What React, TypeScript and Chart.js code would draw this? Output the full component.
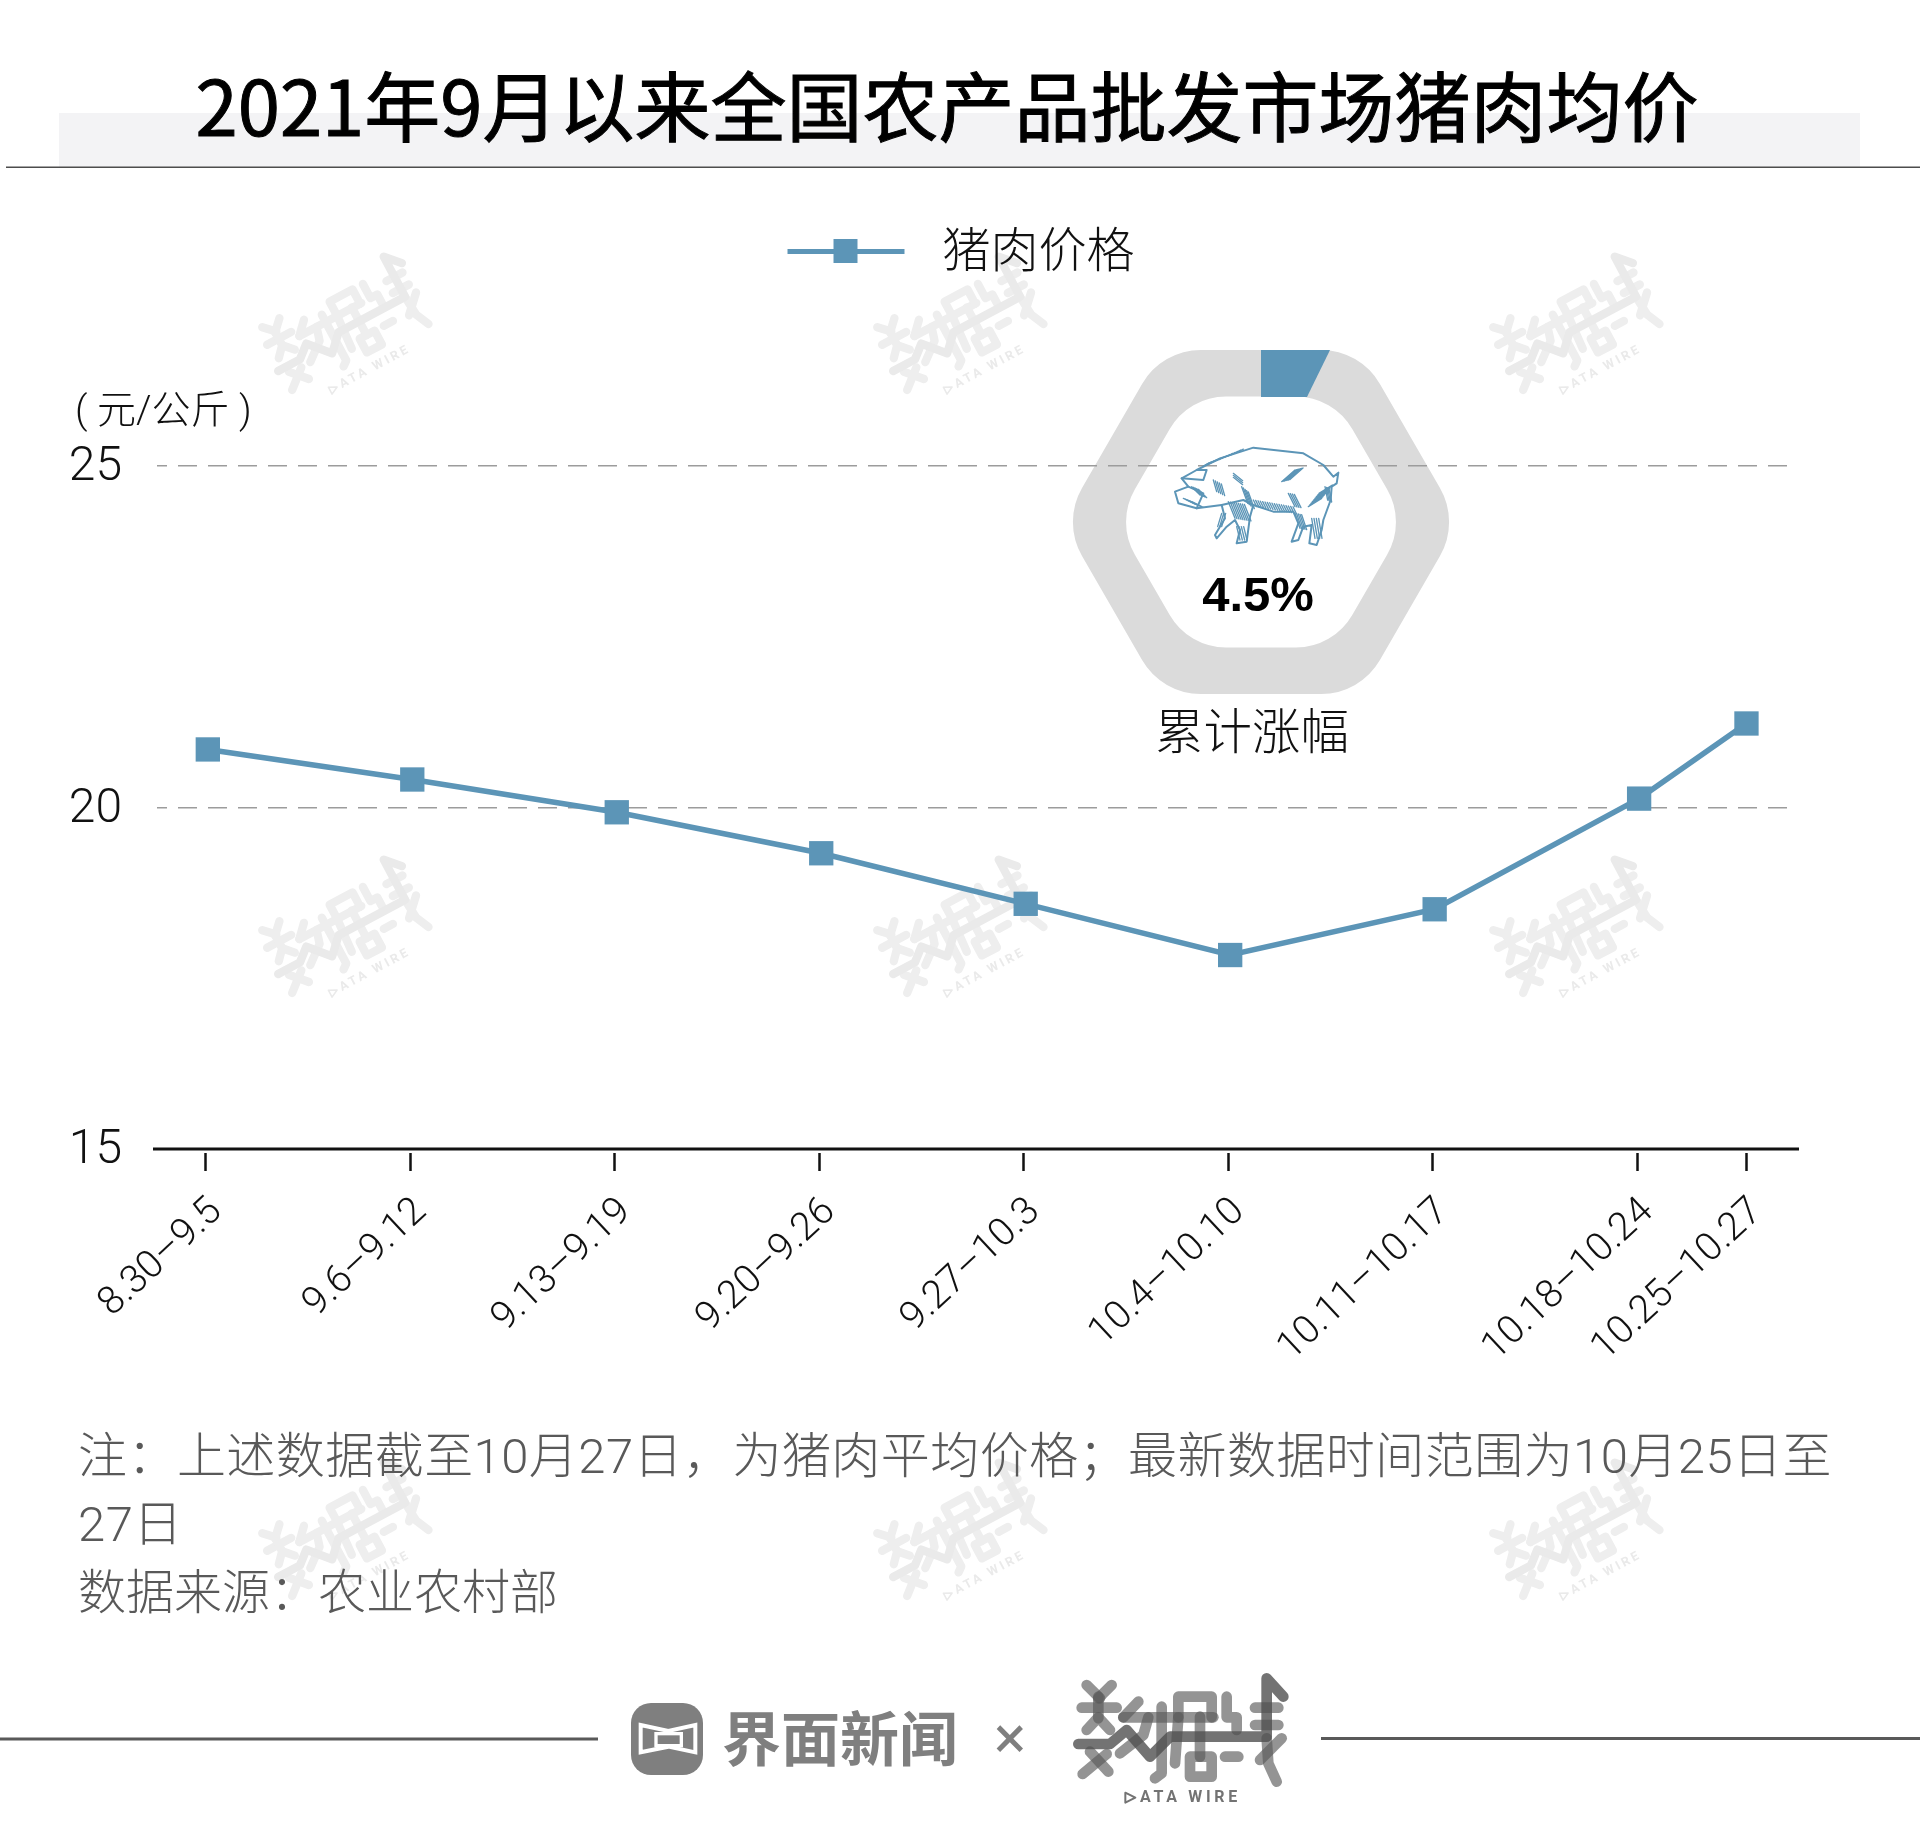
import React, { useEffect, useRef } from "react";
import Chart from "chart.js/auto";

const weekLabels = ["8.30–9.5", "9.6–9.12", "9.13–9.19", "9.20–9.26", "9.27–10.3", "10.4–10.10", "10.11–10.17", "10.18–10.24", "10.25–10.27"];
// last period is only three days, so it sits closer to its neighbour
const weekPositions = [0, 1, 2, 3, 4, 5, 6, 7, 7.525];
const porkPrices = [20.85, 20.41, 19.93, 19.33, 18.59, 17.84, 18.51, 20.13, 21.23];
const yTicks = [15, 20, 25];
const seriesName = "猪肉价格";
const noteLines = ["注：上述数据截至10月27日，为猪肉平均价格；最新数据时间范围为10月25日至", "27日", "数据来源：农业农村部"];

const BLUE = "#5c95b7";
const CJK = '"Noto Sans CJK SC", sans-serif';
const LIGHT = 'Roboto, "Noto Sans CJK SC", sans-serif';

// logo strokes, traced on a 240x150 box
const logoThin = [
  [[80, 75], [120, 115]], [[155, 75], [115, 115]], [[65, 143], [170, 143]], [[115, 110], [115, 175]],
  [[80, 210], [115, 172], [150, 210]], [[68, 342], [140, 282]], [[90, 275], [145, 335]],
  [[235, 125], [190, 172]], [[190, 172], [460, 172]], [[265, 172], [250, 225], [180, 280]],
  [[305, 140], [305, 340], [285, 355]], [[355, 172], [355, 110], [455, 110], [455, 172]], [[355, 172], [345, 310]],
  [[420, 170], [420, 290]], [[390, 290], [455, 290], [455, 350], [390, 350], [390, 290]],
  [[500, 110], [500, 172], [530, 172], [530, 210]], [[495, 290], [535, 290]],
  [[585, 143], [655, 143]], [[585, 195], [655, 195]], [[665, 235], [600, 300]], [[620, 235], [625, 310], [650, 365]],
];
const logoMain = [[[55, 252], [150, 252], [200, 210], [270, 290], [330, 230], [620, 230], [620, 55], [670, 110]]];

function strokeLines(ctx: CanvasRenderingContext2D, lines: number[][][]) {
  for (const pts of lines) {
    ctx.beginPath();
    pts.forEach(([x, y], i) => (i ? ctx.lineTo(x, y) : ctx.moveTo(x, y)));
    ctx.stroke();
  }
}

function drawLogo(ctx: CanvasRenderingContext2D, cx: number, cy: number, scale: number, angle: number, thin: string, main: string) {
  ctx.save();
  ctx.translate(cx, cy);
  ctx.rotate(angle);
  ctx.scale(scale / 3, scale / 3);
  ctx.translate(-360, -210);
  ctx.lineCap = "round";
  ctx.lineJoin = "round";
  ctx.lineWidth = 32;
  ctx.strokeStyle = thin;
  strokeLines(ctx, logoThin);
  ctx.strokeStyle = main;
  strokeLines(ctx, logoMain);
  // DATA WIRE strip under the logo
  ctx.fillStyle = main;
  ctx.beginPath();
  ctx.moveTo(196, 398);
  ctx.lineTo(226, 413);
  ctx.lineTo(196, 428);
  ctx.closePath();
  ctx.lineWidth = 6;
  ctx.strokeStyle = main;
  ctx.stroke();
  ctx.font = "bold 48px Roboto, sans-serif";
  ctx.letterSpacing = "11px";
  ctx.textBaseline = "middle";
  ctx.fillText("ATA WIRE", 240, 414);
  ctx.restore();
}

function hexPath(ctx: CanvasRenderingContext2D, cx: number, cy: number, R: number, r: number) {
  const pts = [0, 1, 2, 3, 4, 5].map((i) => [cx + R * Math.cos((i * Math.PI) / 3), cy + R * Math.sin((i * Math.PI) / 3)]);
  ctx.moveTo((pts[5][0] + pts[0][0]) / 2, (pts[5][1] + pts[0][1]) / 2);
  pts.forEach((p, i) => {
    const n = pts[(i + 1) % 6];
    ctx.arcTo(p[0], p[1], (p[0] + n[0]) / 2, (p[1] + n[1]) / 2, r);
  });
  ctx.closePath();
}

const pigOutline = [[405, 485], [445, 470], [425, 445], [470, 420], [540, 385], [640, 353], [790, 370], [850, 405], [880, 440], [895, 428], [890, 460], [875, 470], [872, 510], [850, 570], [845, 600], [830, 645], [808, 640], [815, 585], [790, 590], [775, 630], [755, 635], [775, 580], [760, 545], [700, 545], [640, 525], [630, 560], [620, 635], [590, 640], [600, 600], [585, 570], [560, 590], [530, 625], [525, 615], [555, 565], [545, 525], [470, 535], [415, 520], [405, 485]];
const pigHatch = [
  // x, y, dx, dy, count, stepX, stepY
  [490, 408, 16, -9, 14, 8, -3.2], [520, 450, 10, 35, 5, 6, 3], [430, 505, 30, 12, 6, 6, 3], [455, 470, 25, 25, 5, 5, 2],
  [565, 515, 20, 50, 9, 6, 1], [605, 470, 18, 50, 5, 5, 4], [640, 510, 10, 20, 18, 7, 1.2],
  [725, 455, 40, -35, 7, 4, -1], [745, 490, 20, 40, 4, 6, 1], [805, 530, 40, -25, 9, 4, -5],
  [855, 470, 8, 40, 4, 4, 2], [765, 550, 15, 45, 5, 5, 1], [815, 565, 10, 60, 4, 7, 0],
  [590, 590, 10, 40, 4, 7, 0], [545, 550, -12, 40, 3, 6, 0], [580, 430, 28, 22, 3, 0, 6],
];

function drawPig(ctx: CanvasRenderingContext2D) {
  ctx.save();
  ctx.translate(1040, 330);
  ctx.scale(1 / 3, 1 / 3);
  ctx.strokeStyle = BLUE;
  ctx.lineJoin = "round";
  ctx.lineCap = "round";
  ctx.lineWidth = 6;
  ctx.beginPath();
  pigOutline.forEach(([x, y], i) => (i ? ctx.lineTo(x, y) : ctx.moveTo(x, y)));
  ctx.stroke();
  strokeLines(ctx, [[[425, 445], [490, 450], [500, 420], [470, 420]], [[445, 470], [490, 490], [470, 535]], [[545, 525], [610, 510], [640, 525]]]);
  ctx.lineWidth = 4;
  for (const [x, y, dx, dy, n, sx, sy] of pigHatch) {
    for (let i = 0; i < n; i++) {
      ctx.beginPath();
      ctx.moveTo(x + i * sx, y + i * sy);
      ctx.lineTo(x + i * sx + dx, y + i * sy + dy);
      ctx.stroke();
    }
  }
  ctx.restore();
}

const legendGap = {
  id: "legendGap",
  beforeInit(chart: any) {
    // the legend only leaves padding above itself, so make room below it by hand
    const fit = chart.legend.fit;
    chart.legend.fit = function () {
      fit.call(this);
      this.height += 177;
    };
  },
};

const pageArt = {
  id: "pageArt",
  beforeDraw(chart: Chart) {
    const ctx = chart.ctx;
    ctx.save();
    ctx.fillStyle = "#f3f3f5";
    ctx.fillRect(59, 113, 1801, 54);
    ctx.fillStyle = "#4d4d4d";
    ctx.fillRect(6, 166.5, 1914, 1.5);

    for (const cx of [343, 958, 1574]) {
      for (const cy of [324, 927, 1530]) {
        drawLogo(ctx, cx, cy, 0.78, -0.49, "#eeeeee", "#eaeaea");
      }
    }

    // progress ring
    ctx.fillStyle = "#dbdbdb";
    ctx.beginPath();
    hexPath(ctx, 1261, 522, 198.6, 68);
    hexPath(ctx, 1261, 522, 145, 65);
    ctx.fill("evenodd");
    ctx.fillStyle = BLUE;
    ctx.beginPath();
    ctx.moveTo(1261, 350);
    ctx.lineTo(1330, 350);
    ctx.lineTo(1307, 397);
    ctx.lineTo(1261, 397);
    ctx.closePath();
    ctx.fill();

    // footer
    ctx.fillStyle = "#595959";
    ctx.fillRect(0, 1737.5, 598, 3);
    ctx.fillRect(1321, 1737, 599, 3);
    ctx.fillStyle = "#7f7f7f";
    ctx.beginPath();
    ctx.roundRect(631, 1703, 72, 72, 20);
    ctx.fill();
    ctx.save();
    ctx.translate(620, 1695);
    ctx.scale(1 / 3, 1 / 3);
    ctx.strokeStyle = "#fff";
    ctx.lineWidth = 12;
    ctx.beginPath();
    ctx.moveTo(62, 90);
    ctx.lineTo(145, 108);
    ctx.lineTo(226, 90);
    ctx.lineTo(226, 172);
    ctx.lineTo(145, 155);
    ctx.lineTo(62, 172);
    ctx.closePath();
    ctx.stroke();
    ctx.lineWidth = 10;
    ctx.strokeRect(108, 116, 76, 36);
    ctx.restore();
    drawLogo(ctx, 1180, 1730, 1, 0, "rgba(90,90,90,0.65)", "rgba(80,80,80,0.8)");
    ctx.restore();
  },
  afterDatasetsDraw(chart: Chart) {
    drawPig(chart.ctx);
  },
  afterDraw(chart: Chart) {
    const ctx = chart.ctx;
    const y = chart.scales.y.getPixelForValue(15);
    ctx.save();
    ctx.fillStyle = "#fff";
    ctx.fillRect(153, y + 1, 1646, 3);
    ctx.fillStyle = "#111";
    ctx.fillRect(153, y - 1.5, 1646, 3);
    ctx.restore();
  },
};

function legendGlyph() {
  const c = document.createElement("canvas");
  c.width = 133;
  c.height = 34;
  const g = c.getContext("2d")!;
  g.fillStyle = BLUE;
  g.fillRect(2, 11, 117, 5);
  g.fillRect(48, 1, 24, 24);
  return c;
}

function Label({ x, y, size, text, color = "#111", weight = 300, font = LIGHT, align = "center", spacing = 0, stroke }: any) {
  const tx = align === "left" ? "0" : "-50%";
  return (
    <div style={{ position: "absolute", left: x, top: y, transform: `translate(${tx},-50%)`, fontSize: size, lineHeight: 1, color, fontWeight: weight, fontFamily: font, whiteSpace: "nowrap", letterSpacing: spacing, WebkitTextStroke: stroke }}>
      {text}
    </div>
  );
}

export default function App() {
  const chartRef = useRef<HTMLCanvasElement>(null);

  useEffect(() => {
    const ctx = chartRef.current?.getContext("2d");
    if (!ctx) return;

    const chart = new Chart(ctx, {
      type: "line",
      data: {
        datasets: [
          {
            label: seriesName,
            data: weekPositions.map((x, i) => ({ x, y: porkPrices[i] })),
            borderColor: BLUE,
            backgroundColor: BLUE,
            borderWidth: 5.5,
            tension: 0,
            pointStyle: "rect",
            pointRadius: 17.2,
            pointBorderWidth: 0,
          },
        ],
      },
      options: {
        responsive: false,
        animation: false,
        devicePixelRatio: 1,
        layout: { padding: { top: 44, right: 0, left: 0, bottom: 0 } },
        plugins: {
          tooltip: { enabled: false },
          legend: {
            position: "top",
            labels: {
              usePointStyle: true,
              pointStyle: legendGlyph(),
              pointStyleWidth: 133,
              padding: 187,
              color: "#111",
              font: { size: 48, family: LIGHT, weight: "300" },
            },
          },
        },
        scales: {
          x: {
            type: "linear",
            min: -0.2485,
            max: 7.733,
            afterBuildTicks: (scale: any) => {
              // weekly tick marks sit a touch left of their points, the last one does not
              scale.ticks = weekPositions.map((value, i) => ({ value: i < 8 ? value - 0.01 : value }));
            },
            afterFit: (scale: any) => {
              scale.height = 688;
            },
            grid: { drawOnChartArea: false, drawTicks: true, tickLength: 22, tickColor: "#111", tickWidth: 2.5 },
            border: { display: false },
            ticks: {
              autoSkip: false,
              minRotation: 43,
              maxRotation: 43,
              padding: 18,
              labelOffset: 11,
              color: "#111",
              font: { size: 39, family: LIGHT, weight: "300" },
              callback: (_v: any, i: number) => weekLabels[i],
            },
          },
          y: {
            min: 15,
            max: 25,
            afterBuildTicks: (scale: any) => {
              scale.ticks = yTicks.map((value) => ({ value }));
            },
            afterFit: (scale: any) => {
              scale.width = 157;
            },
            grid: {
              drawTicks: false,
              lineWidth: 1.5,
              color: (c: any) => (c.tick.value === 15 ? "transparent" : "#9c9c9c"),
            },
            border: { display: false, dash: [19, 11], dashOffset: 9 },
            ticks: {
              padding: 35,
              labelOffset: 2,
              color: "#111",
              font: { size: 48, family: LIGHT, weight: "300" },
            },
          },
          // empty axis, holds the right margin so the legend stays centred on the page
          spacer: {
            position: "right",
            afterFit: (scale: any) => {
              scale.width = 131;
            },
            grid: { display: false },
            border: { display: false },
            ticks: { display: false },
          },
        },
      },
      plugins: [legendGap, pageArt],
    });

    return () => chart.destroy();
  }, []);

  return (
    <div style={{ position: "relative", width: 1920, height: 1837, overflow: "hidden", background: "#fff" }}>
      <style>{"body{margin:0}"}</style>
      <canvas ref={chartRef} width={1920} height={1837} style={{ display: "block" }}></canvas>
      <Label x={947} y={103} size={76} weight={400} font={CJK} color="#000" stroke="1px #000" text="2021年9月以来全国农产品批发市场猪肉均价" />
      <Label x={75} y={410} size={39} align="left" text="( 元/公斤 )" />
      <Label x={1258} y={594} size={49} weight={700} font="'Liberation Sans', sans-serif" color="#000" text="4.5%" />
      <Label x={1252} y={733} size={48.5} text="累计涨幅" />
      <Label x={78} y={1456} size={49} color="#595959" align="left" spacing={0.45} text={noteLines[0]} />
      <Label x={78} y={1524} size={49} color="#595959" align="left" spacing={0.45} text={noteLines[1]} />
      <Label x={78} y={1593} size={48} color="#595959" align="left" text={noteLines[2]} />
      <Label x={840} y={1735} size={59} weight={700} font={CJK} color="#7f7f7f" text="界面新闻" />
      <Label x={1010} y={1738} size={60} weight={400} color="#7f7f7f" text="×" />
    </div>
  );
}
